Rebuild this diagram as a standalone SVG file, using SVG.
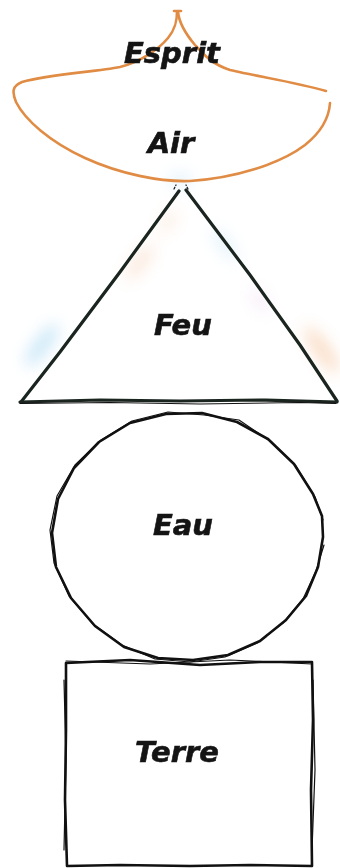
<svg xmlns="http://www.w3.org/2000/svg" width="340" height="868" viewBox="0 0 340 868">
<style>
.lbl{font-family:"DejaVu Sans","Liberation Sans",sans-serif;font-weight:bold;font-style:italic;font-size:29px;fill:#141414;stroke:#141414;stroke-width:0.6;text-anchor:middle}
.orange{fill:none;stroke:#e08c45;stroke-width:2.6;stroke-linecap:round;stroke-linejoin:round}
.ink{fill:none;stroke:#1b2520;stroke-width:3.2;stroke-linecap:round;stroke-linejoin:round}
.blk{fill:none;stroke:#111;stroke-width:2.6;stroke-linejoin:round;stroke-linecap:round}
.thin{fill:none;stroke:#111;stroke-width:1.2;stroke-linejoin:round;stroke-linecap:round}
</style>
<defs>
<filter id="blur" x="-50%" y="-50%" width="200%" height="200%"><feGaussianBlur stdDeviation="8"/></filter>
</defs>
<rect width="340" height="868" fill="#fff"/>

<g id="glow" filter="url(#blur)" opacity="0.4">
<ellipse cx="42" cy="345" rx="7" ry="26" fill="#6fbfec" transform="rotate(37 42 345)"/>
<ellipse cx="322" cy="350" rx="7" ry="28" fill="#f0a060" transform="rotate(-35 322 350)"/>
<ellipse cx="140" cy="262" rx="6" ry="22" fill="#f4bd9a" transform="rotate(37 140 262)"/>
<ellipse cx="225" cy="245" rx="6" ry="20" fill="#b7def3" transform="rotate(-37 225 245)"/>
<ellipse cx="180" cy="180" rx="12" ry="7" fill="#b7def3"/>
<ellipse cx="168" cy="222" rx="6" ry="14" fill="#f7d3b8" transform="rotate(37 168 222)"/>
<ellipse cx="260" cy="300" rx="5" ry="14" fill="#e8c6e8" transform="rotate(-35 260 300)"/>
</g>

<g id="air">
<path class="orange" d="M177,12 C177,20 176,28 168,38 C158,50 140,62 120,67 C95,72 50,74 22,82 C12,86 12,92 16,102 C25,120 50,142 85,158 C120,174 160,182 190,181 C235,178 280,164 305,145 C320,133 329,118 330,103"/>
<path class="orange" d="M178,12 C179,22 184,32 195,45 C205,56 212,64 230,70 C255,76 295,82 326,91"/>
<path class="orange" d="M174,11 L181,11" stroke-width="3"/>
<text class="lbl" x="171" y="153">Air</text>
</g>

<g id="esprit">
<text class="lbl" x="172" y="63">Esprit</text>
</g>

<g id="feu">
<path class="ink" d="M179,191 L120,272 L60,352 L21,402"/>
<path class="ink" d="M186,190 L250,275 L300,345 L337,401"/>
<path class="ink" d="M20,402 L100,400 L180,401 L260,400 L337,402"/>
<path class="thin" d="M20,403.5 L110,402.5 L200,404 L300,402.5 L336,403.5" stroke="#1b2520"/>
<path class="thin" d="M174,189 L176,185 M188,189 L186,185" stroke-dasharray="2 2"/>
<text class="lbl" x="183" y="335">Feu</text>
</g>

<g id="eau">
<path class="blk" d="M323,537 L318,567 L306,596 L286,620 L260,641 L228,655 L193,660 L158,658 L124,647 L95,626 L71,598 L56,567 L52,533 L58,499 L74,468 L99,442 L130,423 L166,414 L202,413 L237,422 L268,439 L294,464 L313,494 L322,516 Z"/>
<path class="thin" d="M324,545 L316,571 L303,599 L283,623 L257,643 L225,657 L190,662 L155,659 L122,645 L93,624 L69,596 L54,563 L50,530 L57,496 L75,465 L101,440 L132,421 L168,412 L204,415 L239,420 L270,441 L296,466 L315,497 L323,520"/>
<text class="lbl" x="183" y="535">Eau</text>
</g>

<g id="terre">
<path class="blk" stroke-width="3.2" d="M66,663 L130,660 L200,665 L260,662 L312,662 L313,720 L311,790 L312,866 L250,865 L190,866 L120,865 L67,866 L65,800 L66,730 Z"/>
<path class="thin" d="M66,661 L150,664 L230,660 L312,664 M64,680 L66,760 L64,850 M313,680 L315,770 L312,850"/>
<text class="lbl" x="177" y="762">Terre</text>
</g>

<g id="connectors"/>
</svg>
